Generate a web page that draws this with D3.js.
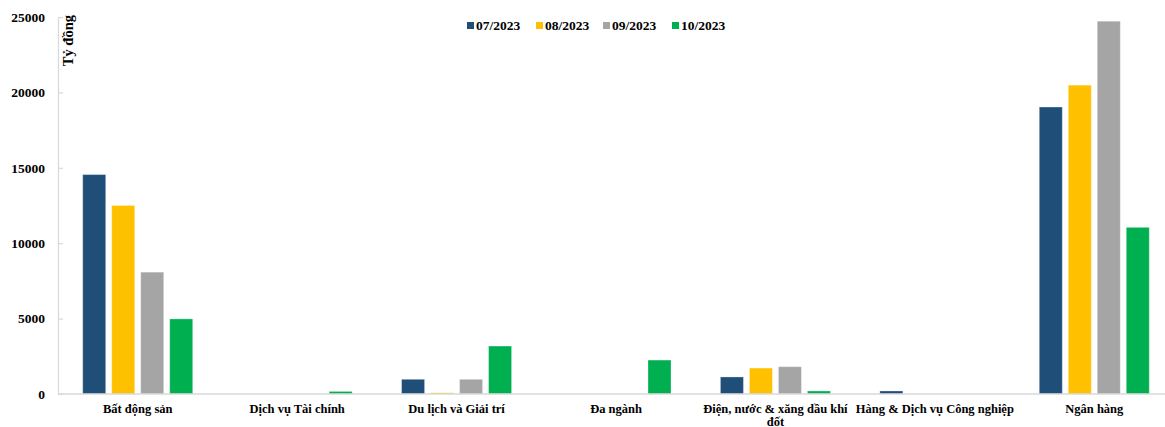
<!DOCTYPE html>
<html>
<head>
<meta charset="utf-8">
<script src="https://cdn.jsdelivr.net/npm/d3@7/dist/d3.min.js"></script>
<style>
  html, body { margin: 0; padding: 0; background: #fff; }
  svg { display: block; }
  text { font-family: "Liberation Serif", "Times New Roman", serif; font-weight: bold; fill: #000; }
</style>
</head>
<body>
<svg id="chart" width="1165" height="427"></svg>
<script>
// Categories (sectors) and monthly values, in billion VND
const categories = [
  "Bất động sản",
  "Dịch vụ Tài chính",
  "Du lịch và Giải trí",
  "Đa ngành",
  "Điện, nước & xăng dầu khí đốt",
  "Hàng & Dịch vụ Công nghiệp",
  "Ngân hàng"
];
// Axis label lines for each category (long names break over two lines)
const categoryLabelLines = [
  ["Bất động sản"],
  ["Dịch vụ Tài chính"],
  ["Du lịch và Giải trí"],
  ["Đa ngành"],
  ["Điện, nước & xăng dầu khí", "đốt"],
  ["Hàng & Dịch vụ Công nghiệp"],
  ["Ngân hàng"]
];
const seriesNames = ["07/2023", "08/2023", "09/2023", "10/2023"];
const s07 = [14550, 0, 975, 0, 1130, 200, 19030];
const s08 = [12500, 0, 80, 0, 1720, 0, 20480];
const s09 = [8080, 0, 975, 0, 1810, 0, 24720];
const s10 = [4980, 170, 3180, 2250, 200, 0, 11050];
const seriesValues = [s07, s08, s09, s10];
const seriesColors = ["#1f4e79", "#ffc000", "#a5a5a5", "#00b050"];
const yTicks = [0, 5000, 10000, 15000, 20000, 25000];
const yTitle = "Tỷ đồng";

const svg = d3.select("#chart");
const W = 1165, H = 427;
const plot = { left: 58, right: 1174, top: 17, bottom: 394 };

const x0 = d3.scaleBand().domain(categories).range([plot.left, plot.right]).padding(0);
const groupSpan = 110;
const x1 = d3.scaleBand().domain(seriesNames)
  .range([(x0.bandwidth() - groupSpan) / 2, (x0.bandwidth() + groupSpan) / 2])
  .paddingInner(0.207).paddingOuter(0);
const y = d3.scaleLinear().domain([0, 25000]).range([plot.bottom, plot.top]);

// Y axis
const yAxis = d3.axisLeft(y).tickValues(yTicks).tickSize(-5).tickPadding(13).tickFormat(d3.format("d"));
const gy = svg.append("g").attr("transform", `translate(${plot.left},0)`).call(yAxis);
gy.select(".domain").attr("stroke", "#d9d9d9").attr("stroke-width", 1.2);
gy.selectAll(".tick line").attr("stroke", "#d9d9d9").attr("stroke-width", 1.2);
gy.selectAll(".tick text").style("font-size", "13.5px").style("font-family", "'Liberation Serif', serif").style("font-weight", "bold").attr("fill", "#000");

// Y title
svg.append("text")
  .attr("transform", `translate(73,15) rotate(-90)`)
  .attr("text-anchor", "end")
  .style("font-size", "14.5px")
  .text(yTitle);

// Bars
const groups = svg.append("g").selectAll("g")
  .data(categories)
  .join("g")
  .attr("transform", d => `translate(${x0(d)},0)`);

groups.selectAll("rect")
  .data((d, i) => seriesNames.map((s, k) => ({ s, k, v: seriesValues[k][i] })).filter(o => o.v > 0))
  .join("rect")
  .attr("x", o => x1(o.s))
  .attr("width", x1.bandwidth())
  .attr("y", o => y(o.v))
  .attr("height", o => y(0) - y(o.v))
  .attr("fill", o => seriesColors[o.k])
  .attr("stroke", "#ffffff")
  .attr("stroke-opacity", 0.3)
  .attr("stroke-width", 1);

// X axis baseline
svg.append("line")
  .attr("x1", plot.left).attr("x2", W)
  .attr("y1", y(0)).attr("y2", y(0))
  .attr("stroke", "#d9d9d9").attr("stroke-width", 1.5);

// Category labels
const xAxis = d3.axisBottom(x0).tickSize(0).tickPadding(0);
const gx = svg.append("g").attr("transform", `translate(0,${y(0)})`).call(xAxis);
gx.select(".domain").remove();
gx.selectAll(".tick text")
  .style("font-size", "12.5px")
  .style("font-family", "'Liberation Serif', serif")
  .style("font-weight", "bold")
  .attr("fill", "#000")
  .attr("y", 0).attr("dy", 0)
  .each(function (d) {
    const t = d3.select(this);
    const lines = categoryLabelLines[categories.indexOf(d)];
    t.text(null);
    lines.forEach((ln, j) => {
      t.append("tspan").attr("x", 0).attr("y", 18.5 + j * 13).text(ln);
    });
  });

// Legend
const legendItems = seriesNames.map((s, k) => ({ s, k }));
const legendX = [467, 536, 603, 672];
const lg = svg.append("g").selectAll("g").data(legendItems).join("g")
  .attr("transform", (d, i) => `translate(${legendX[i]},22)`);
lg.append("rect").attr("width", 7).attr("height", 7).attr("fill", d => seriesColors[d.k]);
lg.append("text").attr("x", 9).attr("y", 8).style("font-size", "13.5px").text(d => d.s);
</script>
</body>
</html>
